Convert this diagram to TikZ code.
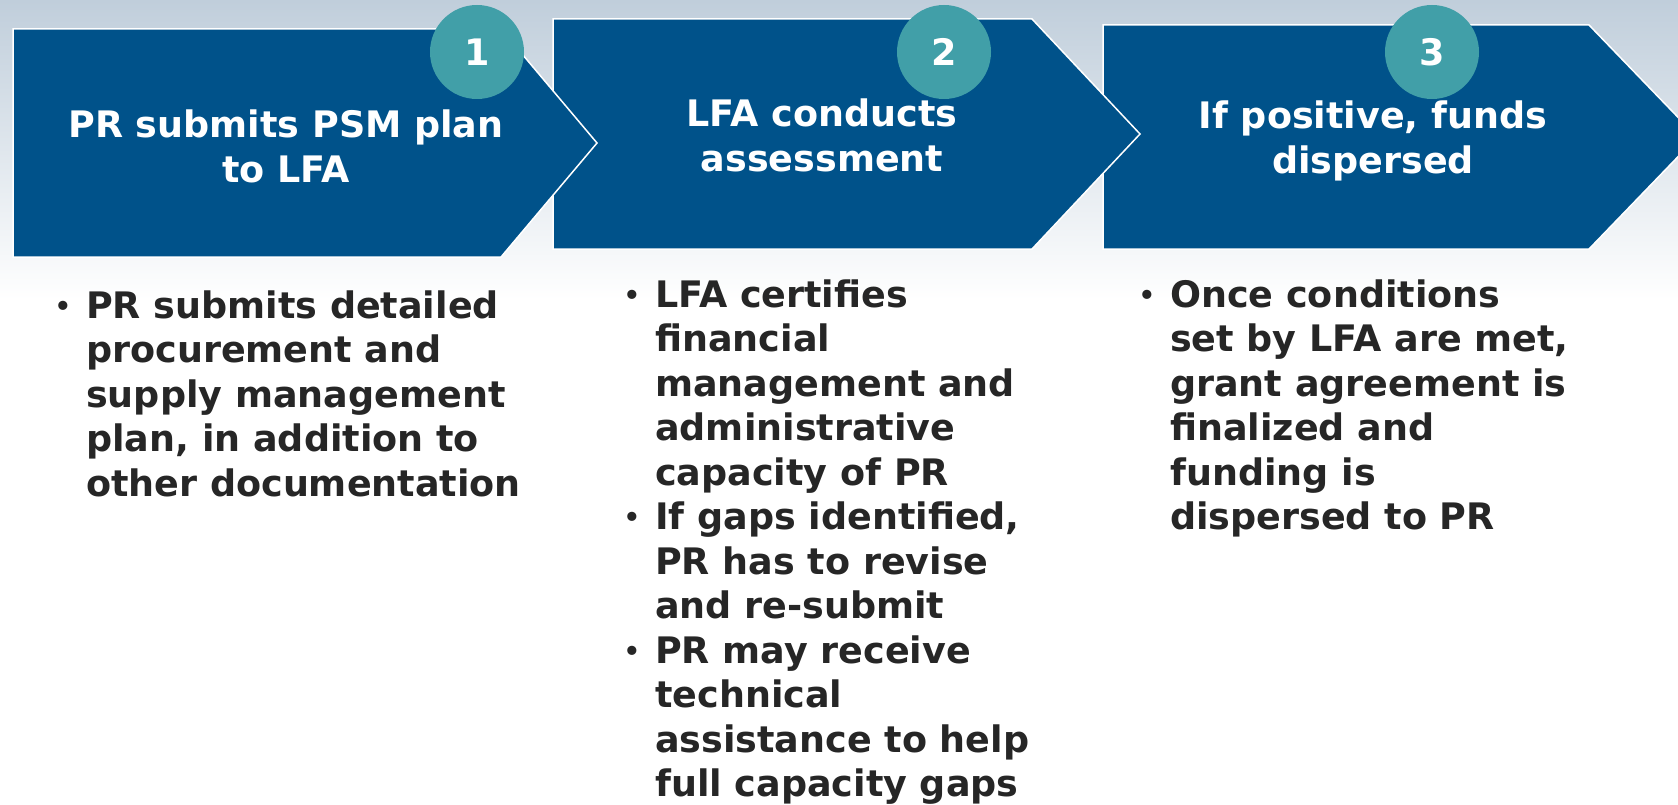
\documentclass[tikz,border=0pt]{standalone}
\usepackage{fontspec}
\setmainfont{DejaVu Sans}
\definecolor{chevblue}{RGB}{0,82,138}
\definecolor{badgeteal}{RGB}{65,159,168}
\definecolor{bodygray}{RGB}{38,38,38}
\definecolor{skytop}{RGB}{192,206,219}
\tikzset{
  chev/.style={fill=chevblue,draw=white,line width=1.5pt,line join=miter},
  badge/.style={circle,fill=badgeteal,minimum size=94pt,inner sep=0pt,text=white,font=\fontsize{36.5}{44}\selectfont\bfseries},
  headtxt/.style={anchor=north,align=center,inner sep=0pt,text=white,font=\fontsize{36.5}{45}\selectfont\bfseries},
  bodytxt/.style={anchor=north west,align=left,inner sep=0pt,text=bodygray,font=\fontsize{36.5}{44.5}\selectfont\bfseries}
}
\newcommand\bul{\llap{\raisebox{3pt}{\fontsize{26}{26}\selectfont\textbullet}\hspace{15pt}}}
\begin{document}
\begin{tikzpicture}[x=1pt,y=-1pt]
\useasboundingbox (0,0) rectangle (1678,805);
\clip (0,0) rectangle (1678,805);
\fill[white] (0,0) rectangle (1678,805);
\shade[top color=skytop,bottom color=white] (0,0) rectangle (1678,300);
\draw[chev] (1103,25) -- (1589,25) -- (1697,137) -- (1589,249) -- (1103,249) -- cycle;
\draw[chev] (553,19) -- (1032,19) -- (1140,134) -- (1032,249) -- (553,249) -- cycle;
\draw[chev] (13,29) -- (501,29) -- (597,143) -- (501,257) -- (13,257) -- cycle;
\node[headtxt](H1) at (286,109.6){PR submits PSM plan\\to LFA};
\node[headtxt](H2) at (822,98.6){LFA conducts\\assessment};
\node[headtxt](H3) at (1373,100.6){If positive, funds\\dispersed};
\node[badge](K1) at (477,52){1};
\node[badge](K2) at (944,52){2};
\node[badge](K3) at (1432,52){3};
\node[bodytxt](B1) at (86,290.3){\bul PR submits detailed\\procurement and\\supply management\\plan, in addition to\\other documentation};
\node[bodytxt](B2) at (655,279.3){\bul LFA certifies\\financial\\management and\\administrative\\capacity of PR\\\bul If gaps identified,\\PR has to revise\\and re-submit\\\bul PR may receive\\technical\\assistance to help\\full capacity gaps};
\node[bodytxt](B3) at (1170,279.3){\bul Once conditions\\set by LFA are met,\\grant agreement is\\finalized and\\funding is\\dispersed to PR};
\end{tikzpicture}
\end{document}
